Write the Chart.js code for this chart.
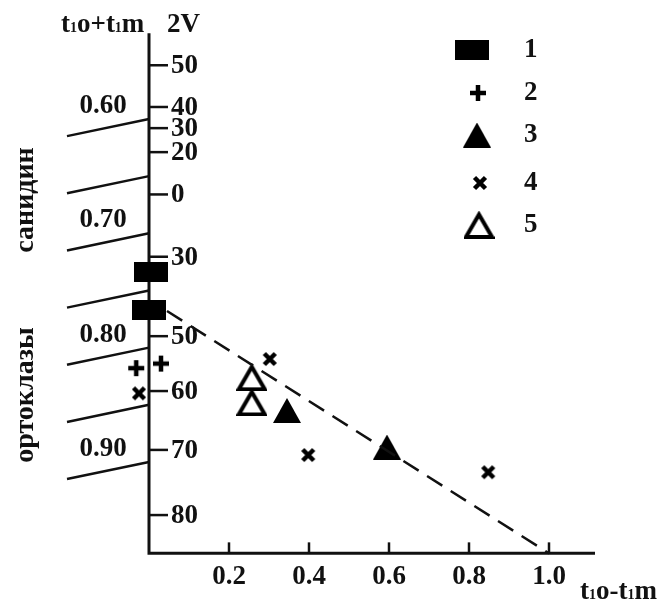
<!DOCTYPE html>
<html>
<head>
<meta charset="utf-8">
<script src="https://cdn.jsdelivr.net/npm/chart.js@4/dist/chart.umd.min.js"></script>
<style>
  html, body { margin: 0; padding: 0; background: #fff; }
  #wrap { width: 666px; height: 600px; position: relative; }
</style>
</head>
<body>
<div id="wrap"><canvas id="chart"></canvas></div>
<script>
// x: t1o-t1m, y: t1o+t1m (reversed)
const seriesNames = ["1", "2", "3", "4", "5"];

const rectX = [0.005, 0.0];
const rectY = [0.734, 0.767];
const plusX = [-0.032, 0.03];
const plusY = [0.818, 0.814];
const triX = [0.345, 0.595];
const triY = [0.855, 0.887];
const crossX = [0.302, -0.025, 0.398, 0.848];
const crossY = [0.810, 0.840, 0.894, 0.909];
const openTriX = [0.257, 0.257];
const openTriY = [0.826, 0.848];

const trendX = [0.045, 1.0];
const trendY = [0.768, 0.98];

// t1o+t1m isolines on the left of the 2V axis
const isoValues = [0.60, 0.65, 0.70, 0.75, 0.80, 0.85, 0.90];
const isoLabelled = [0.60, 0.70, 0.80, 0.90];
const isoLabels = ["0.60", "0.70", "0.80", "0.90"];

// 2V scale (non linear) placed along the y axis
const twoVLabels = ["50", "40", "30", "20", "0", "30", "50", "60", "70", "80"];
const twoVPos = [0.553, 0.5895, 0.608, 0.629, 0.666, 0.7205, 0.79, 0.838, 0.8895, 0.9465];

const xTicks = [0.2, 0.4, 0.6, 0.8, 1.0];
const xTickLabels = ["0.2", "0.4", "0.6", "0.8", "1.0"];

const axisTop = 0.525;
const axisBottom = 0.98;
const xAxisEnd = 1.115;
const isoLeft = -0.205;
const isoDrop = 0.015;

const FONT = '"Liberation Serif", "Times New Roman", serif';
function font(size) {
  return "bold " + size + "px " + FONT;
}

function makeMarker(kind) {
  const c = document.createElement("canvas");
  const g = c.getContext("2d");
  g.fillStyle = "#000";
  g.strokeStyle = "#000";
  if (kind === "rect") {
    c.width = 34; c.height = 20;
    g.fillStyle = "#000";
    g.fillRect(0, 0, 34, 20);
  } else if (kind === "plus") {
    c.width = 18; c.height = 18;
    g.lineWidth = 4.5;
    g.beginPath();
    g.moveTo(9, 1); g.lineTo(9, 17);
    g.moveTo(1, 9); g.lineTo(17, 9);
    g.stroke();
  } else if (kind === "tri") {
    c.width = 28; c.height = 25;
    g.beginPath();
    g.moveTo(14, 0); g.lineTo(28, 25); g.lineTo(0, 25);
    g.closePath();
    g.fill();
  } else if (kind === "cross") {
    c.width = 18; c.height = 18;
    g.lineWidth = 4.5;
    g.beginPath();
    g.moveTo(3.5, 3.5); g.lineTo(14.5, 14.5);
    g.moveTo(14.5, 3.5); g.lineTo(3.5, 14.5);
    g.stroke();
  } else if (kind === "openTri") {
    c.width = 31; c.height = 28;
    g.lineWidth = 4;
    g.lineJoin = "miter";
    g.beginPath();
    g.moveTo(15.5, 3.5); g.lineTo(28.5, 26); g.lineTo(2.5, 26);
    g.closePath();
    g.stroke();
  }
  return c;
}

const markers = ["rect", "plus", "tri", "cross", "openTri"].map(makeMarker);

function points(xs, ys) {
  return xs.map((x, i) => ({ x: x, y: ys[i] }));
}

const datasets = [];

isoValues.forEach(v => {
  datasets.push({
    data: [{ x: isoLeft, y: v + isoDrop }, { x: 0, y: v }],
    showLine: true,
    borderColor: "#111",
    borderWidth: 2.5,
    pointRadius: 0
  });
});

datasets.push({
  data: points(trendX, trendY),
  showLine: true,
  borderColor: "#111",
  borderWidth: 2.5,
  borderDash: [18, 10],
  pointRadius: 0
});

[
  points(rectX, rectY),
  points(plusX, plusY),
  points(triX, triY),
  points(crossX, crossY),
  points(openTriX, openTriY)
].forEach((data, i) => {
  datasets.push({
    label: seriesNames[i],
    data: data,
    pointStyle: markers[i],
    pointRadius: 10,
    showLine: false
  });
});

function drawRich(ctx, parts, x, y) {
  let cx = x;
  parts.forEach(p => {
    ctx.font = font(p[1]);
    ctx.fillText(p[0], cx, y + p[2]);
    cx += ctx.measureText(p[0]).width;
  });
}

const axesPlugin = {
  id: "axesPlugin",
  beforeDatasetsDraw(chart) {
    const ctx = chart.ctx;
    const xs = chart.scales.x;
    const ys = chart.scales.y;
    const x0 = xs.getPixelForValue(0);
    const yb = ys.getPixelForValue(axisBottom);

    ctx.save();
    ctx.strokeStyle = "#111";
    ctx.lineWidth = 3;
    ctx.beginPath();
    ctx.moveTo(x0, ys.getPixelForValue(axisTop));
    ctx.lineTo(x0, yb);
    ctx.lineTo(xs.getPixelForValue(xAxisEnd), yb);
    ctx.stroke();

    // 2V ticks to the right
    ctx.lineWidth = 2.5;
    twoVPos.forEach(v => {
      const y = ys.getPixelForValue(v);
      ctx.beginPath();
      ctx.moveTo(x0, y);
      ctx.lineTo(x0 + 19, y);
      ctx.stroke();
    });

    // x ticks pointing up
    xTicks.forEach(v => {
      const x = xs.getPixelForValue(v);
      ctx.beginPath();
      ctx.moveTo(x, yb);
      ctx.lineTo(x, yb - 11);
      ctx.stroke();
    });
    ctx.restore();
  },
  afterDatasetsDraw(chart) {
    const ctx = chart.ctx;
    const xs = chart.scales.x;
    const ys = chart.scales.y;
    const x0 = xs.getPixelForValue(0);
    const yb = ys.getPixelForValue(axisBottom);

    ctx.save();
    ctx.fillStyle = "#111";

    // 2V labels
    ctx.font = font(27);
    ctx.textAlign = "left";
    ctx.textBaseline = "middle";
    twoVLabels.forEach((t, i) => {
      ctx.fillText(t, x0 + 22, ys.getPixelForValue(twoVPos[i]) + 1);
    });

    // isoline labels
    ctx.textAlign = "center";
    isoLabels.forEach((t, i) => {
      ctx.fillText(t, xs.getPixelForValue(-0.115), ys.getPixelForValue(isoLabelled[i]) - 13);
    });

    // x tick labels
    ctx.textBaseline = "alphabetic";
    xTickLabels.forEach((t, i) => {
      ctx.fillText(t, xs.getPixelForValue(xTicks[i]), yb + 31);
    });

    // axis titles
    ctx.textAlign = "left";
    drawRich(ctx, [["t", 27, 0], ["1", 14, 0], ["o+t", 27, 0], ["1", 14, 0], ["m", 27, 0]], 61, 32);
    ctx.font = font(27);
    ctx.fillText("2V", 167, 32);
    drawRich(ctx, [["t", 27, 0], ["1", 14, 0], ["o-t", 27, 0], ["1", 14, 0], ["m", 27, 0]], 580, 599);

    // rotated group names
    ctx.font = font(28);
    ctx.textAlign = "center";
    ctx.textBaseline = "middle";
    [["санидин", 200], ["ортоклазы", 395]].forEach(item => {
      ctx.save();
      ctx.translate(26, item[1]);
      ctx.rotate(-Math.PI / 2);
      ctx.fillText(item[0], 0, 0);
      ctx.restore();
    });

    // legend
    const legendX = [472, 478, 477, 480, 479];
    const legendY = [50, 93, 135, 183, 225];
    ctx.font = font(27);
    ctx.textAlign = "left";
    markers.forEach((m, i) => {
      ctx.drawImage(m, legendX[i] - m.width / 2, legendY[i] - m.height / 2);
      ctx.fillText(seriesNames[i], 524, legendY[i]);
    });

    ctx.restore();
  }
};

new Chart(document.getElementById("chart"), {
  type: "scatter",
  data: { datasets: datasets },
  options: {
    responsive: true,
    maintainAspectRatio: false,
    animation: false,
    events: [],
    layout: { padding: 0, autoPadding: false },
    plugins: {
      legend: { display: false },
      tooltip: { enabled: false }
    },
    scales: {
      x: { type: "linear", display: false, min: -0.3725, max: 1.2925 },
      y: { type: "linear", display: false, reverse: true, min: 0.4959, max: 1.0208 }
    }
  },
  plugins: [axesPlugin]
});
</script>
</body>
</html>
